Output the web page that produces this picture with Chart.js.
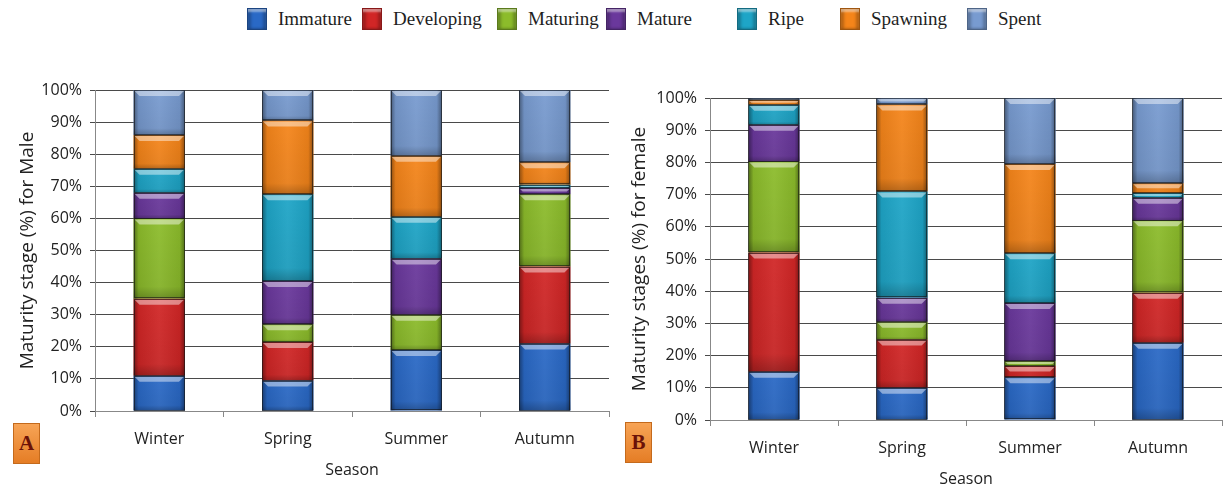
<!DOCTYPE html>
<html>
<head>
<meta charset="utf-8">
<script src="https://cdn.jsdelivr.net/npm/chart.js@4.4.1/dist/chart.umd.min.js"></script>
<style>
  html, body { margin: 0; padding: 0; background: #fff; }
  body { width: 1225px; height: 487px; position: relative; overflow: hidden; }
  canvas { position: absolute; }
  #chartA { left: 0; top: 70px; }
  #chartB { left: 612px; top: 78px; }
  .legend { position: absolute; top: 0; left: 0; width: 1225px; height: 40px; font-family: "Liberation Serif", serif; font-size: 19px; color: #1e1e1e; }
  .legend .item { position: absolute; top: 8px; display: flex; align-items: center; }
  .legend .box { width: 20px; height: 22px; margin-right: 11px; box-sizing: border-box; border: 1px solid rgba(0,0,0,.35);
    box-shadow: inset 0 4px 2px -1px rgba(255,255,255,.45), inset 3px 0 3px rgba(0,0,0,.25), inset -3px 0 3px rgba(0,0,0,.25); }
  .tag { position: absolute; width: 27px; height: 41px; box-sizing: border-box; border: 1px solid #c46a1c;
    background: linear-gradient(to bottom, #f7a456, #e57d25); font: bold 21px "Liberation Serif", serif; color: #6b1208;
    display: flex; align-items: center; justify-content: center; }
</style>
</head>
<body>
<div class="legend" id="legend"></div>
<canvas id="chartA" width="612" height="417"></canvas>
<canvas id="chartB" width="613" height="418"></canvas>
<div class="tag" style="left:13px; top:423px;">A</div>
<div class="tag" style="left:625px; top:422px;">B</div>
<script>
const seasons = ['Winter', 'Spring', 'Summer', 'Autumn']
const stages = ['Immature', 'Developing', 'Maturing', 'Mature', 'Ripe', 'Spawning', 'Spent']
const stageColors = ['#2a69c6', '#d12626', '#8cbc2b', '#6a389c', '#1ea5c7', '#f5851a', '#789bd0']

// male, % per stage across the seasons
const maleImmature = [11, 9.5, 19, 21]
const maleDeveloping = [24, 12, 0, 24]
const maleMaturing = [25, 5.5, 11, 22.5]
const maleMature = [8, 13.5, 17.5, 2]
const maleRipe = [7.5, 27, 13, 1]
const maleSpawning = [10.5, 23, 19, 7]
const maleSpent = [14, 9.5, 20.5, 22.5]

// female
const femaleImmature = [15, 10, 13.3, 24]
const femaleDeveloping = [37, 15, 3.5, 15.5]
const femaleMaturing = [28.3, 5.5, 1.5, 22.5]
const femaleMature = [11.4, 7.5, 18, 7]
const femaleRipe = [6.2, 33, 15.5, 1.5]
const femaleSpawning = [1.5, 27, 27.7, 3]
const femaleSpent = [0.6, 2, 20.5, 26.5]

const yTicks = [0, 10, 20, 30, 40, 50, 60, 70, 80, 90, 100]

const maleData = [maleImmature, maleDeveloping, maleMaturing, maleMature, maleRipe, maleSpawning, maleSpent]
const femaleData = [femaleImmature, femaleDeveloping, femaleMaturing, femaleMature, femaleRipe, femaleSpawning, femaleSpent]

// legend above both charts
const legendLeft = [247, 362, 497, 606, 737, 840, 967]
const legend = document.getElementById('legend')
stages.forEach((name, i) => {
  const item = document.createElement('div')
  item.className = 'item'
  item.style.left = legendLeft[i] + 'px'
  const box = document.createElement('span')
  box.className = 'box'
  box.style.background = stageColors[i]
  const label = document.createElement('span')
  label.textContent = name
  item.appendChild(box)
  item.appendChild(label)
  legend.appendChild(item)
})

// glassy bevel on every bar segment
const bevel = {
  id: 'bevel',
  afterDatasetsDraw(chart) {
    const ctx = chart.ctx
    chart.data.datasets.forEach((ds, di) => {
      const meta = chart.getDatasetMeta(di)
      meta.data.forEach(el => {
        const { x, y, base, width } = el.getProps(['x', 'y', 'base', 'width'], true)
        const top = Math.min(y, base)
        const h = Math.abs(base - y)
        if (h < 0.8) return
        const l = x - width / 2
        ctx.save()
        const g = ctx.createLinearGradient(l, 0, l + width, 0)
        g.addColorStop(0, 'rgba(0,0,0,0.42)')
        g.addColorStop(0.1, 'rgba(0,0,0,0.06)')
        g.addColorStop(0.5, 'rgba(255,255,255,0.06)')
        g.addColorStop(0.9, 'rgba(0,0,0,0.06)')
        g.addColorStop(1, 'rgba(0,0,0,0.42)')
        ctx.fillStyle = g
        ctx.fillRect(l, top, width, h)
        const v = ctx.createLinearGradient(0, top, 0, top + h)
        v.addColorStop(0, 'rgba(0,0,0,0)')
        v.addColorStop(0.85, 'rgba(0,0,0,0.05)')
        v.addColorStop(1, 'rgba(0,0,0,0.25)')
        ctx.fillStyle = v
        ctx.fillRect(l, top, width, h)
        const bh = Math.min(5, h / 2.5)
        ctx.fillStyle = 'rgba(255,255,255,0.45)'
        ctx.beginPath()
        ctx.moveTo(l + 1, top + 1)
        ctx.lineTo(l + width - 1, top + 1)
        ctx.lineTo(l + width - 1 - bh, top + 1 + bh)
        ctx.lineTo(l + 1 + bh, top + 1 + bh)
        ctx.closePath()
        ctx.fill()
        ctx.strokeStyle = 'rgba(20,20,20,0.6)'
        ctx.lineWidth = 1
        ctx.strokeRect(Math.round(l) + 0.5, Math.round(top) + 0.5, Math.round(width) - 1, Math.max(Math.round(h) - 1, 0))
        ctx.restore()
      })
    })
  }
}

const tickFont = { family: 'Open Sans', size: 16 }
const textColor = '#222'

function makeChart(id, values, yTitle, yWidth) {
  return new Chart(document.getElementById(id), {
    type: 'bar',
    data: {
      labels: seasons,
      datasets: stages.map((name, i) => ({
        label: name,
        data: values[i],
        backgroundColor: stageColors[i],
        borderWidth: 0,
        categoryPercentage: 1,
        barPercentage: 0.4
      }))
    },
    plugins: [bevel],
    options: {
      responsive: false,
      animation: false,
      layout: { padding: { top: 20, right: 3, left: 0, bottom: 0 } },
      plugins: { legend: { display: false }, tooltip: { enabled: false } },
      scales: {
        x: {
          stacked: true,
          grid: { drawOnChartArea: false, drawTicks: true, tickLength: 6, color: '#888' },
          border: { color: '#888' },
          ticks: { font: tickFont, color: textColor, padding: 13 },
          title: { display: true, text: 'Season', font: { family: 'Open Sans', size: 16 }, color: textColor, padding: { top: 0, bottom: 7 } },
          afterFit(scale) { scale.height = 76 }
        },
        y: {
          stacked: true,
          min: 0,
          max: 100,
          afterBuildTicks(scale) { scale.ticks = yTicks.map(v => ({ value: v })) },
          grid: { color: '#4a4a4a', tickLength: 5 },
          border: { color: '#888' },
          ticks: { font: tickFont, color: textColor, padding: 8, callback: v => v + '%' },
          title: { display: true, text: yTitle, font: { family: 'Open Sans', size: 19 }, color: textColor, padding: { top: 16, bottom: 0 } },
          afterFit(scale) { scale.width = yWidth }
        }
      }
    }
  })
}

makeChart('chartA', maleData, 'Maturity stage (%) for Male', 95)
makeChart('chartB', femaleData, 'Maturity stages (%) for female', 98)
</script>
</body>
</html>
